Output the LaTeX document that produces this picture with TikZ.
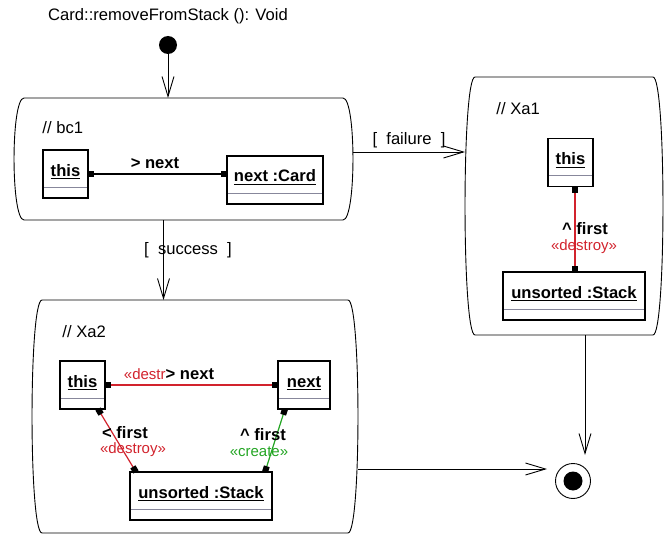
\documentclass[tikz,border=0pt]{standalone}
\usepackage{fontspec}
\setmainfont{Liberation Sans}
\usepackage{tikz}
\usetikzlibrary{arrows.meta}

\definecolor{delred}{RGB}{210,35,45}
\definecolor{newgreen}{RGB}{35,165,35}
\definecolor{sepline}{RGB}{135,135,155}

\newcommand{\objname}[1]{\setbox0\hbox{#1}\rlap{\vrule height -2.2pt depth 3.4pt width \wd0}\box0}
\newcommand{\stateoutline}[1]{%
  \draw ([xshift=10pt]#1.north west) -- ([xshift=-10pt]#1.north east)
    .. controls ([xshift=3.3pt]#1.north east) and ([xshift=3.3pt]#1.south east) .. ([xshift=-10pt]#1.south east)
    -- ([xshift=10pt]#1.south west)
    .. controls ([xshift=-3.3pt]#1.south west) and ([xshift=-3.3pt]#1.north west) .. cycle;}

\tikzset{
  txt/.style={font=\fontsize{16.6}{19}\selectfont, inner sep=0pt},
  edgelbl/.style={font=\fontsize{16.6}{19}\bfseries, inner sep=0pt},
  stereo/.style={font=\fontsize{15}{17}\selectfont, inner sep=0pt},
  statearea/.style={inner sep=0pt, outer sep=0pt},
  objbox/.style={draw, line width=1.1pt, inner sep=0pt, outer sep=0pt,
    minimum height=48pt, text height=12pt, text depth=8pt,
    font=\fontsize{16.6}{19}\bfseries,
    path picture={\draw[sepline, line width=1pt]
      ([yshift=11pt]path picture bounding box.south west) --
      ([yshift=11pt]path picture bounding box.south east);}},
  trans/.style={-{Straight Barb[length=20pt,width=12pt]}},
  link/.style={line width=1.2pt, {Square[length=6pt,width=6pt,color=black]}-{Square[length=6pt,width=6pt,color=black]}},
}

\begin{document}
\begin{tikzpicture}[x=1pt, y=-1pt, line width=.9pt]
  \useasboundingbox (0,0) rectangle (665,535);

  \node[txt] (title) at (168,16) {Card::removeFromStack (): Void};
  \node[circle, fill, minimum size=18pt, inner sep=0pt] (init) at (168,45) {};

  \node[statearea, minimum width=339pt, minimum height=122pt] (bc1) at (183.5,159) {};
  \stateoutline{bc1}
  \node[txt, anchor=west] (bc1name) at (42,128) {// bc1};
  \node[objbox, minimum width=45pt] (b1this) at (65.5,174) {\objname{this}};
  \node[objbox, minimum width=96pt] (b1next) at (275,180) {\objname{next :Card}};
  \draw[link] (b1this.east) -- (b1this.east -| b1next.west);
  \node[edgelbl] (b1lbl) at (155,163) {> next};

  \node[statearea, minimum width=198pt, minimum height=258pt] (xa1) at (564,206) {};
  \stateoutline{xa1}
  \node[txt, anchor=west] (xa1name) at (496,109) {// Xa1};
  \node[objbox, minimum width=45pt] (x1this) at (570.5,162.5) {\objname{this}};
  \node[objbox, minimum width=142pt] (x1uns) at (574,296) {\objname{unsorted :Stack}};
  \draw[link, delred] ([xshift=4.5pt]x1this.south) -- ([xshift=4.5pt]x1this.south |- x1uns.north);
  \node[edgelbl] (x1lbl) at (585,229) {\textasciicircum{} first};
  \node[stereo, delred] (x1st) at (584,247) {«destroy»};

  \node[statearea, minimum width=326pt, minimum height=233pt] (xa2) at (195,416.5) {};
  \stateoutline{xa2}
  \node[txt, anchor=west] (xa2name) at (62,332) {// Xa2};
  \node[objbox, minimum width=45pt] (x2this) at (82.5,385) {\objname{this}};
  \node[objbox, minimum width=52pt] (x2next) at (304,385) {\objname{next}};
  \node[objbox, minimum width=142pt] (x2uns) at (201,496) {\objname{unsorted :Stack}};
  \draw[link, delred] (x2this) -- (x2next);
  \node[edgelbl] (x2lbl) at (169,374) {{\color{delred}\fontsize{15}{17}\mdseries «destr}> next};
  \draw[link, delred] ([xshift=15.5pt]x2this.south) -- ([xshift=-65pt]x2uns.north);
  \node[edgelbl] (x2lfirst) at (125,433) {< first};
  \node[stereo, delred] (x2lst) at (133,450) {«destroy»};
  \draw[link, newgreen] ([xshift=-19pt]x2next.south) -- ([xshift=64pt]x2uns.north);
  \node[edgelbl] (x2rfirst) at (263,435) {\textasciicircum{} first};
  \node[stereo, newgreen] (x2rst) at (259,452) {«create»};

  \node[circle, draw, minimum size=35pt, inner sep=0pt] (fin) at (573,481) {};
  \node[circle, fill, minimum size=19pt, inner sep=0pt] (finin) at (fin) {};
  \coordinate (finT) at (585,455);
  \coordinate (finL) at (547,469);

  \draw[trans] (init.south) -- (init |- bc1.north);
  \draw[trans] ([yshift=7pt]bc1.east) -- ([yshift=7pt]bc1.east -| xa1.west)
    node[txt, midway, above=4pt] (failure) {[~~failure~~]};
  \draw[trans] ([xshift=-20pt]bc1.south) -- ([xshift=-20pt]bc1.south |- xa2.north)
    node[txt, pos=.375, xshift=24.5pt] (success) {[~~success~~]};
  \draw[trans] ([xshift=21pt]xa1.south) -- (finT);
  \draw[trans] (xa2.east |- finL) -- (finL);
\end{tikzpicture}
\end{document}
